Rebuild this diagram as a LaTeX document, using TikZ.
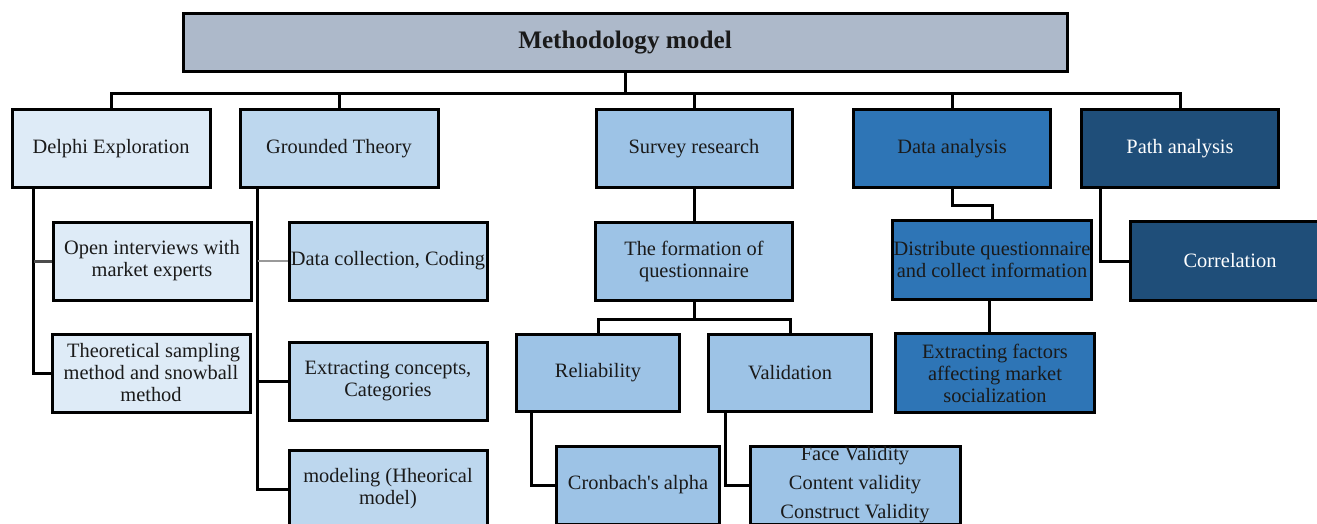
\documentclass[tikz,border=0pt]{standalone}
\usepackage{fontspec}
\setmainfont{Liberation Serif}[Ligatures=TeXOff]
\definecolor{ctitle}{HTML}{ADB9CA}
\definecolor{cl1}{HTML}{DEEBF7}
\definecolor{cl2}{HTML}{BDD7EE}
\definecolor{cl3}{HTML}{9DC3E6}
\definecolor{cl4}{HTML}{2E75B6}
\definecolor{cl5}{HTML}{1F4E79}
\definecolor{ctext}{HTML}{1A1A1A}
\tikzset{
  box/.style={draw=black, line width=2.25pt, rectangle, align=center, inner sep=0pt,
    text=ctext, font=\fontsize{15.3}{16.5}\selectfont},
  sz/.style 2 args={minimum width=#1*0.75pt, minimum height=#2*0.75pt},
  conn/.style={draw=black, line width=2.25pt},
  thinconn/.style={draw=gray!80, line width=1.2pt},
}
\begin{document}
\begin{tikzpicture}[x=0.75pt, y=-0.75pt]
\useasboundingbox (0,0) rectangle (1317,524);
\clip (0,0) rectangle (1317,524);
\fill[white] (0,0) rectangle (1317,524);
% title
\node[box, fill=ctitle, sz={884}{58}, font=\fontsize{18.9}{20}\selectfont\bfseries] (title) at (625,43) {Methodology model};
% level 1
\node[box, fill=cl1, sz={198}{78}] (delphi) at (111,149) {Delphi Exploration};
\node[box, fill=cl2, sz={198}{78}] (grounded) at (339,149) {Grounded Theory};
\node[box, fill=cl3, sz={196}{78}] (survey) at (694,149) {Survey research};
\node[box, fill=cl4, sz={197}{78}] (data) at (952,149) {Data analysis};
\node[box, fill=cl5, sz={197}{78}, text=white] (path) at (1180,149) {Path analysis};
% delphi children
\node[box, fill=cl1, sz={198}{78}] (open) at (152,261) {Open interviews with\\market experts};
\node[box, fill=cl1, sz={198}{78}] (theo) at (151,373) {\ Theoretical sampling\\method and\ snowball\\method};
% grounded children
\node[box, fill=cl2, sz={198}{78}] (datacol) at (388,261) {Data collection, Coding};
\node[box, fill=cl2, sz={198}{78}] (extract) at (388,381) {Extracting concepts,\\Categories};
\node[box, fill=cl2, sz={198}{78}] (modeling) at (388,489) {modeling (Hheorical\\model)};
% survey children
\node[box, fill=cl3, sz={197}{78}] (formation) at (694,261) {The formation of\\questionnaire};
\node[box, fill=cl3, sz={163}{77}] (reliab) at (598,373) {Reliability};
\node[box, fill=cl3, sz={163}{77}] (valid) at (790,373) {Validation};
\node[box, fill=cl3, sz={163}{78}] (cronbach) at (638,485) {Cronbach's alpha};
\node[box, fill=cl3, sz={210}{78}, font=\fontsize{15.3}{21.75}\selectfont] (face) at (855,485) {Face Validity\\Content validity\\Construct\ Validity};
% data analysis children
\node[box, fill=cl4, sz={199}{79}] (distribute) at (992,260) {Distribute questionnaire\\and collect information};
\node[box, fill=cl4, sz={199}{79}] (factors) at (995,373) {Extracting factors\\affecting market\\socialization};
% path children
\node[box, fill=cl5, sz={200}{79}, text=white] (corr) at (1230,261) {Correlation};
% connectors from title
\foreach \n in {delphi,grounded,survey,data,path}
  \draw[conn] (\n.north) -- ++(0,-15) -| (title.south);
% delphi
\draw[conn] ([xshift=17.25pt]delphi.south west) |- (theo.west);
\draw[draw=black!70, line width=2.25pt] ([xshift=17.25pt]delphi.south west |- open.west) -- (open.west);
% grounded
\draw[conn] ([xshift=14.25pt]grounded.south west) |- (modeling.west);
\draw[conn] ([xshift=14.25pt]grounded.south west |- extract.west) -- (extract.west);
\draw[thinconn] ([xshift=14.25pt]grounded.south west |- datacol.west) -- (datacol.west);
% survey
\draw[conn] (survey.south) -- (formation.north);
\draw[conn] (formation.south) -- ++(0,18) -| (reliab.north);
\draw[conn] (formation.south) -- ++(0,18) -| (valid.north);
\draw[conn] ([xshift=12pt]reliab.south west) |- (cronbach.west);
\draw[conn] ([xshift=13.5pt]valid.south west) |- (face.west);
% data analysis
\draw[conn] (data.south) -- ++(0,16) -| (distribute.north);
\draw[conn] ([xshift=-2.25pt]distribute.south) -- ([xshift=-2.25pt]distribute.south |- factors.north);
% path
\draw[conn] ([xshift=15pt]path.south west) |- (corr.west);
\end{tikzpicture}
\end{document}
